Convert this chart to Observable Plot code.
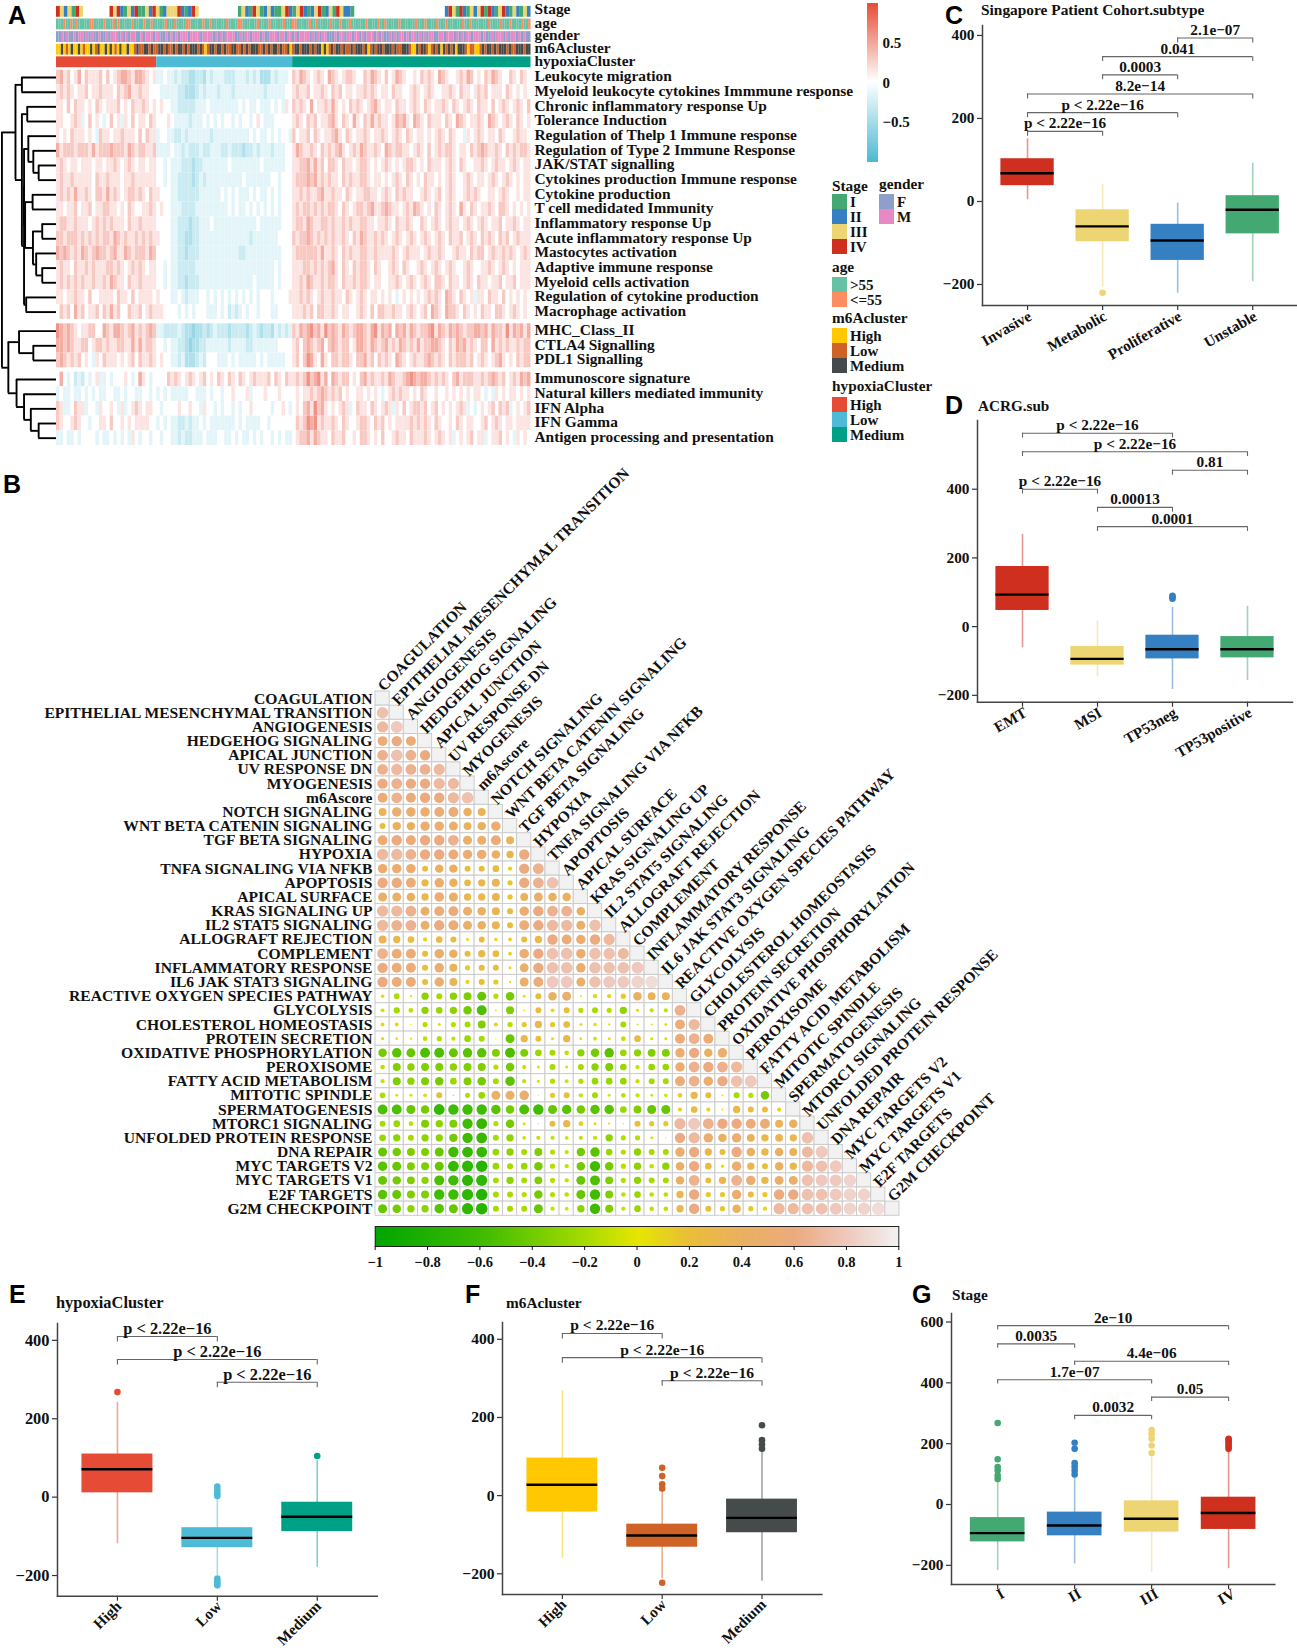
<!DOCTYPE html>
<html><head><meta charset="utf-8">
<script src="https://cdn.jsdelivr.net/npm/d3@7"></script>
<script src="https://cdn.jsdelivr.net/npm/@observablehq/plot@0.6"></script>
<style>
html,body{margin:0;padding:0;background:#fff}
#page{position:relative;width:1297px;height:1652px;overflow:hidden;font-family:"Liberation Serif",serif;font-weight:bold;color:#111}
.abs{position:absolute;white-space:nowrap;line-height:1}
.letter{font-family:"Liberation Sans",Arial,sans-serif;font-size:25px;color:#000}
</style></head><body><div id="page"></div>
<script>
/* ---------- Panel A: heatmap ---------- */
const heatLabels=["Leukocyte migration","Myeloid leukocyte cytokines Immmune response","Chronic inflammatory response Up","Tolerance Induction","Regulation of Thelp 1 Immune response","Regulation of Type 2 Immune Response","JAK/STAT signalling","Cytokines production Immune response","Cytokine production","T cell medidated Immunity","Inflammatory response Up","Acute inflammatory response Up","Mastocytes activation","Adaptive immune response","Myeloid cells activation","Regulation of cytokine production","Macrophage activation","MHC_Class_II","CTLA4 Signalling","PDL1 Signalling","Immunoscore signature","Natural killers mediated immunity","IFN Alpha","IFN Gamma","Antigen processing and presentation"];
const heatHigh=["6756457465556464567765776545","5656545564556555465675565544","5546465545465455564546556545","5544565346454346453546455465","5454655545436554556555464655","7566656665756667666576566556","5654554555455455654565455455","5655655555465565554556555555","5656575565466575654566565465","5545564556455665545465445565","5665565554565656555465565555","6656665656565665765655656565","7676565765676656755765666576","5655465565655566565456565455","5656565655655657655465565555","5545565546445555465546455554","4656475645564657564465564565","8767654556644765776567565676","7767655664566565566557575665","6765656454354655545456465565","4743423243453343444543475434","3433433434343344334344334434","6533465534435445435345654554","6544565443445546445454555544","3343343444434334343435434434"];
const heatLow=["33433232211221323332223332323111323334","43333322111232333233323333333323333344","45443322222333433333333434334333434354","44454333323334343434434344345433344444","34433223233333323333333333434334343443","33334332322232233322322212232333233344","44343332221223333333433333333433333344","44343322221232333333333343333333443444","54443322222233333343434333434334343444","45443332222333333333434334343434343444","44443322212233343333333333334333333444","54443322112233333333333333233333334444","44443322122233333333333223333333333444","44343322222333333333333333333333343444","44343322122233333333333333343333343444","54443343233344343434343434343444344445","55444434343444333434232343443444334444","33222232110112123222122221232122132323","44343322101122333333233332233333334444","45443323111232444333434333334343333344","44465654565456454654654654565556465465","34343333344333434434454445344454445444","43444454454435443434434344544444344543","34343322323343433333334343333443444444","43443323223334333443343433434344343433"];
const heatMedium=["6576545654765456654465765464576544546565476544565764546576544654654","5655645565465645545565654554655445654565445565465545656455546545454","6565474556575454656545675455465545654654556546545654655464565456546","5654656455675465475465756554576754765465554654765455654765456546545","6455646545567546545565455654565465455454565465443545654554654456554","5765565465656754565765565476566554565464565665455465676556546565665","5566757564665465545665454565454566545465554565465445565456554565455","5666767565655465655665455454565465454655454565445654554565456545455","5565655675565546545566554565465655445654564565445656544554565445455","5656656565665465456656755676554565765454654565475465455654665454545","5665765566565565655665545565465565446545654565545654565455645565455","6566765656565565465765565654565456545654565465564565465654656456555","5666666575565465655665565555654565554565565445655465664565565654565","5556656565675465465665465445654654456545654565445654455654565454555","5565765565665465565665455445565456545654665465545654655455645564555","5565654565565546545654554545434545454565654765465453554655464545454","5556564665565455445654646655655456545647654766546545465546654565454","6576786758676576567765785767476757656678576576765667767576658576757","5646765674676566457765765675657656575667765465767565466475656556566","5646875475466566546675646565476545655676565465666564565456754546566","5656867857476566454675655657655678767765656546756665565676564565767","4545565676565645445545454345656554546544544545454545543435454554545","4546758675454565346554654565354645665645645454565343454564656345456","4656878565565465445665465645455556565654654454654554456456545545555","4566757655465564454665454644565546555654565453454564553455645435454"];
const stripLabels=["Stage","age","gender","m6Acluster","hypoxiaCluster"];
const stageSegments=[[0,7.6,"4323143"],[15,40,"4342132411324312333421243"],[51,83.6,"13214312321134213421234123143221"],[109,133,"243142132341421342132132"]];
const ageStrip="aaabaababaaaaabbaaaabaaababaaaaabaaaabaabaaaaabaaabaaaabbaaaaabaabaaaaaabaaaabbaaaaaabaaaabaaaaabaaabbaaaaabaabaaaaabaaabaaabaaaaaabaaaabaabaaaaabaaaaaabaaabaaaabaaabaaaaaabaabaaaaaaabaaaabaaabaaaabaab";
const genderStrip="FFMFMFFMFMMFMFMFFMFFMFMMMFMFMFMMFFMFMMMFMMFFMFMFMFMMMFMMMMFMMMMFMFMFMMMMFFMFMMFMMMFMFFMMMFMMFMMFMFMMMMFMFMFMMFFFMFMMFMMFMMFMFMMMFMFMFFMFMFMMFMFMMFMFMFMMFFMMFMMMFMFMFMMFMMMFMFFMFMMMFMFMMFMFMFF";
const m6aStrip="HHMHLHMHHMHLHHMHLMHHMHMHLHMHHMHHLMLLMMLMLLMMLMLLMLMMLMLMMMLMLHLMMLMMLMLLMMLLMLMLMMMLLMLMLMMLMLLMHLMMLMMMLMLMMHMHLMLMMLMLLMLMMMLMHLMLMMLMMMLMLLMMMLHHMLMMLHLMLMHMLMLMHMMMLHLLHHLMLMMLMLMMMLMLLMMMLMM";
const hypoxiaSegments=[[0,28.1,"High"],[28.1,66.2,"Low"],[66.2,133,"Medium"]];
const stageColors={1:"#43A872",2:"#3580C2",3:"#EDD574",4:"#CE2F1F"};
const ageColors={a:"#66C2A5",b:"#FC8D62"};
const genderColors={F:"#8DA0CB",M:"#E78AC3"};
const m6aColors={H:"#FFC800",L:"#CF6226",M:"#454A4A"};
const hypoxiaColors={High:"#E64B35",Low:"#4DBBD5",Medium:"#00A087"};
const dendro=[153,[115,[97,0,1],[97,[82,2,3],[91,[91,[79,4,[65,5,[50,6,7]]],[88,[67,8,9],[66,[40,10,11],[57,12,[40,13,14]]]]],[85,15,16]]]],[135,[105,17,[65,18,19]],[112,20,[91,21,[72,22,[50,23,24]]]]]];
const legendGroups=[
 {title:"Stage",x:832,ty:185,items:[["I",194,"#43A872"],["II",209,"#3580C2"],["III",224,"#EDD574"],["IV",239,"#CE2F1F"]]},
 {title:"gender",x:879,ty:183,items:[["F",194,"#8DA0CB"],["M",209,"#E78AC3"]]},
 {title:"age",x:832,ty:266,items:[[">55",277,"#66C2A5"],["<=55",292,"#FC8D62"]]},
 {title:"m6Acluster",x:832,ty:317,items:[["High",328,"#FFC800"],["Low",343,"#CF6226"],["Medium",358,"#454A4A"]]},
 {title:"hypoxiaCluster",x:832,ty:385,items:[["High",397,"#E64B35"],["Low",412,"#4DBBD5"],["Medium",427,"#00A087"]]}];

/* ---------- Panel B: correlation matrix ---------- */
const corrNames=["COAGULATION","EPITHELIAL MESENCHYMAL TRANSITION","ANGIOGENESIS","HEDGEHOG SIGNALING","APICAL JUNCTION","UV RESPONSE DN","MYOGENESIS","m6Ascore","NOTCH SIGNALING","WNT BETA CATENIN SIGNALING","TGF BETA SIGNALING","HYPOXIA","TNFA SIGNALING VIA NFKB","APOPTOSIS","APICAL SURFACE","KRAS SIGNALING UP","IL2 STAT5 SIGNALING","ALLOGRAFT REJECTION","COMPLEMENT","INFLAMMATORY RESPONSE","IL6 JAK STAT3 SIGNALING","REACTIVE OXYGEN SPECIES PATHWAY","GLYCOLYSIS","CHOLESTEROL HOMEOSTASIS","PROTEIN SECRETION","OXIDATIVE PHOSPHORYLATION","PEROXISOME","FATTY ACID METABOLISM","MITOTIC SPINDLE","SPERMATOGENESIS","MTORC1 SIGNALING","UNFOLDED PROTEIN RESPONSE","DNA REPAIR","MYC TARGETS V2","MYC TARGETS V1","E2F TARGETS","G2M CHECKPOINT"];
const corrLower=[
[],
[75],
[70,80],
[55,60,55],
[65,75,65,60],
[65,70,65,65,70],
[60,65,60,60,70,70],
[55,65,55,60,60,70,75],
[35,50,50,50,55,55,40,35],
[20,40,40,50,50,45,35,40,50],
[55,60,55,60,60,65,45,45,55,35],
[70,70,65,60,60,55,50,50,40,30,60],
[50,50,50,20,40,40,20,20,25,10,60,65],
[60,60,55,30,50,40,25,30,35,15,60,65,75],
[45,45,40,30,50,45,30,30,35,15,35,45,40,40],
[70,70,65,45,55,55,45,40,35,20,50,60,65,65,40],
[70,65,65,45,60,55,45,40,35,20,55,60,70,70,45,75],
[35,30,25,10,25,20,5,20,7,8,20,30,60,55,50,60,70],
[65,55,55,20,50,40,20,30,25,8,50,60,75,75,50,75,75,70],
[60,55,55,20,50,35,15,20,20,5,45,60,75,75,50,75,75,75,80],
[60,55,55,20,50,35,10,20,15,3,45,55,80,80,45,75,80,80,85,90],
[7,-18,3,-30,-20,-30,-35,-45,-15,-40,5,20,40,45,2,10,10,15,40,35,35],
[-8,-22,-12,-30,-25,-30,-40,-55,-2,-35,2,20,8,20,-15,-20,-15,-30,-5,-10,-10,65],
[8,8,1,-15,5,-15,-20,-35,10,-15,15,30,15,25,5,7,3,-20,-2,2,5,55,70],
[6,4,3,-12,-15,-10,-25,-20,1,-45,30,20,5,30,4,-8,5,-12,25,-5,-5,55,65,55],
[-40,-50,-45,-55,-55,-45,-50,-50,-35,-55,-35,-25,-20,-12,-30,-40,-50,-25,-30,-35,-35,50,60,40,50],
[-12,-35,-30,-35,-35,-30,-35,-35,-15,-40,-10,-5,-20,-5,-20,-30,-35,-25,-10,-25,-25,50,65,60,65,70],
[-10,-35,-30,-35,-40,-25,-35,-40,-20,-50,-10,-5,-15,-8,-15,-25,-25,-25,-10,-20,-20,55,65,50,60,75,80],
[-18,-5,-5,8,20,-2,-15,-25,45,45,50,-1,15,20,-10,-20,-5,-12,-10,-5,-7,12,30,20,2,-20,-15,-40],
[-55,-55,-45,-40,-65,-60,-60,-60,-50,-40,-55,-60,-45,-50,-40,-50,-50,-25,-35,-45,-45,10,25,10,2,30,20,20,10],
[-20,-25,-12,-35,-30,-35,-60,-65,-15,-40,5,1,20,30,12,5,3,1,20,15,15,70,80,65,60,60,55,55,35,40],
[-25,-30,-20,-30,-30,-40,-60,-65,-20,-30,-8,-10,-10,-8,-10,-10,-30,-15,-15,-5,1,60,70,50,40,50,35,30,35,30,75],
[-45,-40,-35,-35,-45,-60,-65,-65,-25,-30,-20,-35,-15,-10,-40,-50,-25,-15,-30,-20,-20,50,60,30,20,60,40,30,40,35,70,80],
[-50,-45,-35,-35,-45,-65,-70,-75,-25,-20,-25,-40,-15,-10,-40,-60,-40,-15,-30,-12,-30,40,60,25,6,50,30,20,40,30,70,75,80],
[-45,-40,-35,-30,-55,-60,-70,-70,-20,-30,-20,-35,-15,-10,-45,-55,-35,-15,-30,-20,-20,40,65,20,30,65,50,30,45,45,75,80,80,85],
[-50,-45,-35,-35,-60,-60,-70,-75,-20,-20,-15,-40,-15,-12,-45,-60,-35,-12,-25,-12,-12,30,60,15,15,50,20,15,60,60,75,75,80,85,85],
[-45,-40,-30,-30,-50,-45,-70,-75,-20,-20,-20,-45,-10,-8,-30,-60,-35,-10,-25,-12,-12,30,60,20,15,40,15,10,70,70,75,75,80,85,85,90]];
const corrStops=[-1,-.6,-.2,0,.2,.4,.6,.8,1];
const corrColors=["#00A600","#3FBB00","#A6DB00","#E6E600","#E9BD3A","#EAB060","#EBAA80","#EFC8BE","#F2F2F2"];
const corrTicks=[-1,-.8,-.6,-.4,-.2,0,.2,.4,.6,.8,1];

/* ---------- Box panels ---------- */
const stageFill=["#43A872","#3580C2","#EDD574","#CE2F1F"];
const cCats=["Invasive","Metabolic","Proliferative","Unstable"];
const cStats=[[4,38,68,103,151],[-206,-97,-60,-20,41],[-221,-142,-94,-55,-4],[-193,-78,-20,14,92]];
const cOutliers=[[],[-220],[],[]];
const cColors=["#CE2F1F","#EDD574","#3580C2","#43A872"];
const cBrackets=[[2,3,394,"2.1e−07"],[1,3,349,"0.041"],[1,2,305,"0.0003"],[0,3,259,"8.2e−14"],[0,2,214,"p < 2.22e−16"],[0,1,169,"p < 2.22e−16"]];
const dCats=["EMT","MSI","TP53neg","TP53positive"];
const dStats=[[-62,47,93,175,268],[-146,-112,-94,-58,16],[-183,-94,-66,-25,56],[-157,-91,-66,-29,59]];
const dOutliers=[[],[],[81,86,90],[]];
const dColors=["#CE2F1F","#EDD574","#3580C2","#43A872"];
const dBrackets=[[0,2,563,"p < 2.22e−16"],[0,3,509,"p < 2.22e−16"],[2,3,455,"0.81"],[0,1,400,"p < 2.22e−16"],[1,2,347,"0.00013"],[1,3,291,"0.0001"]];
const eCats=["High","Low","Medium"];
const eStats=[[-119,11,71,110,242],[-200,-129,-104,-78,0],[-179,-88,-50,-13,94]];
const eOutliers=[[268],[3,10,18,27,-208,-214,-220,-225],[105]];
const eColors=["#E64B35","#4DBBD5","#00A087"];
const eBrackets=[[0,1,410,"p < 2.22e−16"],[0,2,351,"p < 2.22e−16"],[1,2,293,"p < 2.22e−16"]];
const fCats=["High","Low","Medium"];
const fStats=[[-161,-42,28,96,268],[-213,-132,-102,-73,14],[-219,-95,-57,-9,112]];
const fOutliers=[[],[71,50,29,18,-223],[120,131,142,180]];
const fColors=["#FFC800","#CF6226","#454A4A"];
const fBrackets=[[0,1,415,"p < 2.22e−16"],[0,2,353,"p < 2.22e−16"],[1,2,294,"p < 2.22e−16"]];
const gCats=["I","II","III","IV"];
const gStats=[[-217,-123,-94,-43,79],[-195,-103,-69,-25,90],[-222,-91,-47,12,156],[-211,-82,-28,24,178]];
const gOutliers=[[84,95,112,123,149,268],[99,112,124,136,183,203],[169,194,216,232,245],[183,190,197,205,212,216]];
const gColors=stageFill;
const gBrackets=[[0,3,588,"2e−10"],[0,1,528,"0.0035"],[1,3,471,"4.4e−06"],[0,2,410,"1.7e−07"],[2,3,353,"0.05"],[1,2,293,"0.0032"]];

/* ---------- layout ---------- */
const page=document.getElementById("page");
const base={background:"transparent",fontFamily:'"Liberation Serif",serif',fontWeight:"bold",fontSize:"15px",overflow:"visible",color:"#111"};
function place(el,left,top){el.style.position="absolute";el.style.left=left+"px";el.style.top=top+"px";page.appendChild(el);return el;}
function html(cls,txt,left,top,size){const d=document.createElement("div");d.className="abs "+cls;d.textContent=txt;d.style.left=left+"px";d.style.top=top+"px";if(size)d.style.fontSize=size+"px";page.appendChild(d);return d;}

/* A: heat */
const gapOf=i=>(i>=17?.3:0)+(i>=20?.3:0);
const heatCells=[];
heatLabels.forEach((_,r)=>{
  [[heatHigh,0,28.1],[heatLow,28.1,66.2],[heatMedium,66.2,133]].forEach(([src,a,b])=>{
    const s=src[r],w=(b-a)/s.length;
    for(let i=0;i<s.length;i++)heatCells.push({x1:a+i*w,x2:a+(i+1)*w,y1:r+gapOf(r),y2:r+1+gapOf(r),v:(+s[i]-4)*.15});
  });
});
const stripY=i=>-4.35+.86*i;
const stripCells=[];
stageSegments.forEach(([a,b,s])=>{const w=(b-a)/s.length;[...s].forEach((c,i)=>stripCells.push({x1:a+i*w,x2:a+(i+1)*w,row:0,f:stageColors[c]}));});
[[ageStrip,ageColors,1],[genderStrip,genderColors,2],[m6aStrip,m6aColors,3]].forEach(([s,m,row])=>{const w=133/s.length;[...s].forEach((c,i)=>stripCells.push({x1:i*w,x2:(i+1)*w,row,f:m[c]}));});
hypoxiaSegments.forEach(([a,b,k])=>stripCells.push({x1:a,x2:b,row:4,f:hypoxiaColors[k]}));

const heatSvg=Plot.plot({width:540,height:460,margin:0,style:{...base,filter:"blur(0.55px)"},
  x:{domain:[0,133],range:[56,530.5],axis:null},
  y:{domain:[-4.75,25.6],range:[0.05,445],axis:null},
  color:{type:"linear",domain:[-1,0,1],range:["#4DBBD5","#FFFFFF","#E64B35"]},
  marks:[
    Plot.rect(heatCells,{x1:"x1",x2:"x2",y1:"y1",y2:"y2",fill:"v"}),
    Plot.rect(stripCells,{x1:"x1",x2:"x2",y1:d=>stripY(d.row),y2:d=>stripY(d.row)+.74,fill:d=>d.f,shapeRendering:"auto"})
  ]});
place(heatSvg,0,0);
const stripLabelY=[-4.15,-3.23,-2.37,-1.51,-.65];
place(Plot.plot({width:870,height:460,margin:0,style:base,
  x:{domain:[0,133],range:[56,530.5],axis:null},
  y:{domain:[-4.75,25.6],range:[0.05,445],axis:null},
  marks:[
    Plot.text(heatLabels,{x:133,dx:3.5,y:(d,i)=>i+.5+gapOf(i),dy:-1.2,text:d=>d,textAnchor:"start",fontSize:15.4}),
    Plot.text(stripLabels,{x:133,dx:3.5,y:(d,i)=>stripLabelY[i],text:d=>d,textAnchor:"start",fontSize:15.4})
  ]}),0,0);

/* A: dendrogram */
const dSeg=[];
function walk(n){
  if(typeof n==="number")return{y:n+.5+gapOf(n),h:0};
  const [h,a,b]=n,l=walk(a),r=walk(b);
  dSeg.push({type:"v",h,y1:l.y,y2:r.y});
  dSeg.push({type:"h",y:l.y,h1:l.h,h2:h},{type:"h",y:r.y,h1:r.h,h2:h});
  return{y:(l.y+r.y)/2,h};
}
walk(dendro);
place(Plot.plot({width:56,height:460,margin:0,style:base,
  x:{domain:[157,0],range:[0,56],axis:null},
  y:{domain:[-4.75,25.6],range:[0.05,445],axis:null},
  marks:[
    Plot.ruleX(dSeg.filter(d=>d.type==="v"),{x:"h",y1:"y1",y2:"y2",stroke:"#000",strokeWidth:1.9}),
    Plot.ruleY(dSeg.filter(d=>d.type==="h"),{y:"y",x1:"h1",x2:"h2",stroke:"#000",strokeWidth:1.9})
  ]}),0,0);

/* A: colour bar */
const barSteps=d3.range(-1.01,.978,.02);
place(Plot.plot({width:60,height:170,marginLeft:7,marginRight:42,marginTop:0,marginBottom:0,style:base,
  x:{domain:[0,1],axis:null},
  y:{domain:[-1.01,.978],range:[162,5],axis:null},
  color:{type:"linear",domain:[-1,0,1],range:["#4DBBD5","#FFFFFF","#E64B35"]},
  marks:[
    Plot.rect(barSteps,{x1:0,x2:1,y1:d=>d,y2:d=>d+.03,fill:d=>d,shapeRendering:"crispEdges"}),
    Plot.axisY({anchor:"right",ticks:[-.5,0,.5],tickSize:0,tickPadding:4,fontSize:15,label:null,tickFormat:d=>d<0?"−"+(-d):""+d})
  ]}),860,0);

/* A: legends */
legendGroups.forEach(g=>{
  html("",g.title,g.x,g.ty-7,15.3);
  g.items.forEach(([lab,y,col])=>{
    const s=document.createElement("div");s.className="abs";s.style.cssText+=`left:${g.x}px;top:${y}px;width:14.6px;height:15px;background:${col}`;page.appendChild(s);
    html("",lab,g.x+18,y+.5,15);
  });
});

/* B */
const corrN=corrNames.length;
const gridCells=[],corrDots=[];
corrLower.forEach((row,i)=>{
  row.forEach((v,j)=>{gridCells.push({i,j,d:false});corrDots.push({i,j,v:v/100});});
  gridCells.push({i,j:i,d:true});
});
place(Plot.plot({width:1020,height:800,margin:0,style:base,
  x:{domain:[0,corrN],range:[375,899],axis:null},
  y:{domain:[0,corrN],range:[241,765.3],axis:null},
  color:{type:"linear",domain:corrStops,range:corrColors},
  r:{domain:[0,1],range:[0,6.7]},
  marks:[
    Plot.rect(gridCells,{x1:"j",x2:d=>d.j+1,y1:"i",y2:d=>d.i+1,fill:d=>d.d?"#F2F2F2":"#fff",stroke:"#CCCCCC",strokeWidth:1}),
    Plot.dot(corrDots,{x:d=>d.j+.5,y:d=>d.i+.5,r:d=>Math.abs(d.v),fill:"v"}),
    Plot.text(corrNames,{x:0,dx:-3,y:(d,i)=>i+.5,text:d=>d,textAnchor:"end",fontSize:15.6}),
    Plot.text(corrNames,{x:(d,i)=>i+.35,y:(d,i)=>i,dy:-3,text:d=>d,textAnchor:"start",rotate:-45,fontSize:15.6})
  ]}),0,450);

place(Plot.plot({width:920,height:60,marginLeft:374.7,marginRight:21.7,marginTop:10,marginBottom:30,style:base,
  x:{domain:[-1,1],axis:null},
  y:{axis:null},
  color:{type:"linear",domain:corrStops,range:corrColors},
  marks:[
    Plot.rect(d3.range(-1,1,.01),{x1:d=>d,x2:d=>Math.min(1,d+.016),fill:d=>d,shapeRendering:"crispEdges"}),
    Plot.frame({stroke:"#222",strokeWidth:1}),
    Plot.axisX({ticks:corrTicks,tickSize:4,tickPadding:6,fontSize:14.5,label:null,anchor:"bottom",tickFormat:d=>d<0?"−"+(+(-d).toFixed(1)):""+(+d.toFixed(1))})
  ]}),0,1215.7);

/* Box panels */
function boxPanel(c){
  const n=c.cats.length,rows=c.stats.map((s,i)=>({i,low:s[0],q1:s[1],med:s[2],q3:s[3],high:s[4],col:c.colors[i]}));
  const outs=c.outliers.flatMap((a,i)=>a.map(v=>({i,v,col:c.colors[i]})));
  const tip=c.tip,fs=c.fs||15.3;
  const ml=50,mt=8,mb=60;
  const svg=Plot.plot({width:c.right-c.axis+ml,height:c.bottom-c.top+mt+mb,marginLeft:ml,marginRight:0,marginTop:mt,marginBottom:mb,style:base,
    x:{domain:[-.6,n-.4],axis:null},
    y:{domain:c.yDomain,axis:null},
    color:{type:"identity"},
    marks:[
      Plot.ruleX(rows,{x:"i",y1:"low",y2:"high",stroke:"col",strokeOpacity:.5,strokeWidth:1.6}),
      Plot.rect(rows,{x1:d=>d.i-.355,x2:d=>d.i+.355,y1:"q1",y2:"q3",fill:"col"}),
      Plot.ruleY(rows,{y:"med",x1:d=>d.i-.355,x2:d=>d.i+.355,stroke:"#000",strokeWidth:2.4}),
      Plot.dot(outs,{x:"i",y:"v",r:3.3,fill:"col"}),
      Plot.ruleY(c.brackets,{y:d=>d[2],x1:d=>d[0],x2:d=>d[1],stroke:"#666",strokeWidth:1.1}),
      Plot.ruleX(c.brackets,{x:d=>d[0],y1:d=>d[2],y2:d=>d[2]-tip,stroke:"#666",strokeWidth:1.1}),
      Plot.ruleX(c.brackets,{x:d=>d[1],y1:d=>d[2],y2:d=>d[2]-tip,stroke:"#666",strokeWidth:1.1}),
      Plot.text(c.brackets,{x:d=>(d[0]+d[1])/2,y:d=>d[2],dy:-8,text:d=>d[3],fontSize:fs}),
      Plot.axisY({ticks:c.yTicks,tickSize:5,tickPadding:3,label:null,fontSize:fs,stroke:"#333",strokeWidth:1.2}),
      Plot.axisX({ticks:d3.range(n),tickFormat:i=>c.cats[i],tickRotate:c.rotate,tickSize:5,tickPadding:c.pad||6,label:null,fontSize:c.xfs||fs,textStroke:"none",stroke:"#333",strokeWidth:1.2,anchor:"bottom"}),
      Plot.frame({anchor:"left",stroke:"#444",strokeWidth:1.5}),
      Plot.frame({anchor:"bottom",stroke:"#444",strokeWidth:1.5})
    ]});
  /* the rotated tick labels sit a little right of Plot's default anchor point */
  if(c.xdx)svg.querySelectorAll('[aria-label="x-axis tick label"] text').forEach(t=>{t.setAttribute("dx",c.xdx);});
  place(svg,c.axis-ml,c.top-mt);
}
boxPanel({cats:cCats,stats:cStats,outliers:cOutliers,colors:cColors,brackets:cBrackets,axis:981.7,right:1297,top:25,bottom:305,yDomain:[-250.6,424],yTicks:[-200,0,200,400],tip:12,rotate:-30,fs:15.3,xdx:3});
boxPanel({cats:dCats,stats:dStats,outliers:dOutliers,colors:dColors,brackets:dBrackets,axis:977,right:1292,top:420,bottom:701.7,yDomain:[-220,600],yTicks:[-200,0,200,400],tip:14,rotate:-30,fs:15.3,xdx:3.5});
boxPanel({cats:eCats,stats:eStats,outliers:eOutliers,colors:eColors,brackets:eBrackets,axis:57.3,right:377,top:1323,bottom:1595.7,yDomain:[-252.7,443],yTicks:[-200,0,200,400],tip:14,rotate:-45,fs:16.4,xfs:15.3,pad:4,xdx:2});
boxPanel({cats:fCats,stats:fStats,outliers:fOutliers,colors:fColors,brackets:fBrackets,axis:502.3,right:821.7,top:1322,bottom:1594,yDomain:[-253,443],yTicks:[-200,0,200,400],tip:14,rotate:-45,fs:15.6,xfs:15.3,pad:4,xdx:2});
boxPanel({cats:gCats,stats:gStats,outliers:gOutliers,colors:gColors,brackets:gBrackets,axis:950.7,right:1274,top:1313,bottom:1584,yDomain:[-263,628],yTicks:[-200,0,200,400,600],tip:14,rotate:-30,fs:15.3,xdx:6});

html("","Singapore Patient Cohort.subtype",981,2,15.4);
html("","ACRG.sub",978,398,15.2);
html("","hypoxiaCluster",56,1295,16.4);
html("","m6Acluster",506,1295,15.3);
html("","Stage",952,1287,15.3);
[["A",8,3],["B",3,472],["C",945,3],["D",945,393],["E",9,1282],["F",465,1282],["G",912,1282]].forEach(([t,x,y])=>html("letter",t,x,y));
</script></body></html>
